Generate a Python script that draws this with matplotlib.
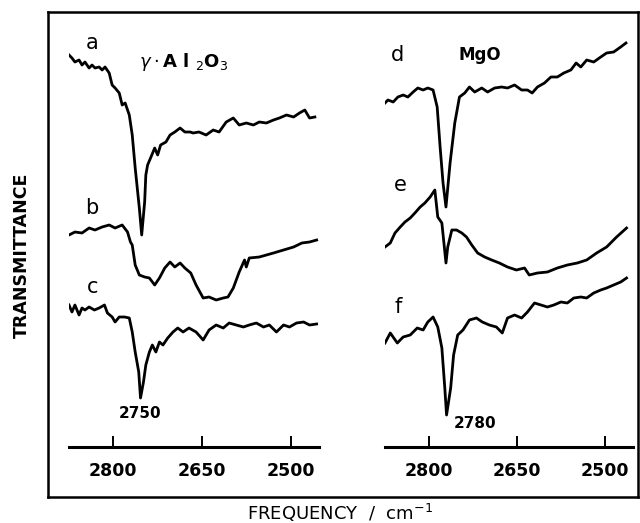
import matplotlib
matplotlib.use("Agg")
import matplotlib.pyplot as plt

# ---------------- data (wavenumber / cm-1, transmittance in arbitrary offset units) -------------
a_wn = [2875, 2870, 2865, 2858, 2853, 2848, 2841, 2836, 2831, 2824, 2819, 2814, 2807, 2802, 2797,
        2790, 2785, 2780, 2773, 2768, 2763, 2756, 2752, 2747, 2745, 2742, 2737, 2730, 2725, 2720,
        2711, 2704, 2696, 2687, 2679, 2670, 2665, 2655, 2643, 2631, 2621, 2609, 2597, 2587, 2575,
        2563, 2553, 2541, 2529, 2519, 2507, 2495, 2485, 2476, 2468, 2459]
a_t = [3.95, 3.92, 3.88, 3.90, 3.85, 3.88, 3.82, 3.85, 3.82, 3.83, 3.80, 3.83, 3.77, 3.65, 3.62,
       3.57, 3.45, 3.47, 3.35, 3.15, 2.82, 2.42, 2.15, 2.48, 2.75, 2.85, 2.92, 3.02, 2.95, 3.05,
       3.08, 3.15, 3.18, 3.22, 3.18, 3.18, 3.17, 3.18, 3.15, 3.20, 3.18, 3.28, 3.32, 3.25, 3.27,
       3.25, 3.28, 3.27, 3.30, 3.32, 3.35, 3.33, 3.37, 3.40, 3.32, 3.33]

b_wn = [2875, 2865, 2853, 2841, 2831, 2819, 2807, 2797, 2785, 2776, 2771, 2768, 2763, 2756, 2747,
        2739, 2730, 2722, 2713, 2704, 2696, 2687, 2679, 2669, 2660, 2648, 2638, 2626, 2614, 2606,
        2597, 2587, 2578, 2575, 2570, 2553, 2529, 2512, 2495, 2481, 2468, 2456]
b_t = [2.15, 2.18, 2.17, 2.22, 2.20, 2.23, 2.25, 2.22, 2.25, 2.18, 2.08, 2.05, 1.85, 1.75, 1.73,
       1.72, 1.65, 1.72, 1.82, 1.88, 1.83, 1.87, 1.82, 1.77, 1.65, 1.52, 1.53, 1.50, 1.52, 1.53,
       1.62, 1.78, 1.90, 1.83, 1.92, 1.93, 1.97, 2.00, 2.03, 2.07, 2.08, 2.10]

c_wn = [2875, 2870, 2865, 2858, 2853, 2848, 2841, 2832, 2824, 2815, 2810, 2802, 2797, 2790, 2781,
        2773, 2768, 2763, 2757, 2754, 2749, 2745, 2739, 2734, 2728, 2722, 2716, 2708, 2699, 2691,
        2682, 2672, 2660, 2648, 2638, 2626, 2614, 2604, 2592, 2580, 2570, 2558, 2546, 2536, 2524,
        2512, 2502, 2490, 2478, 2468, 2456]
c_t = [1.45, 1.38, 1.45, 1.35, 1.42, 1.40, 1.43, 1.40, 1.42, 1.45, 1.37, 1.33, 1.28, 1.33, 1.33,
       1.32, 1.18, 0.98, 0.78, 0.52, 0.68, 0.85, 0.98, 1.05, 0.98, 1.08, 1.05, 1.12, 1.18, 1.22,
       1.18, 1.22, 1.18, 1.10, 1.20, 1.25, 1.22, 1.27, 1.25, 1.23, 1.25, 1.27, 1.23, 1.25, 1.18,
       1.25, 1.23, 1.27, 1.28, 1.25, 1.26]

d_wn = [2875, 2870, 2861, 2853, 2844, 2836, 2827, 2819, 2810, 2802, 2793, 2786, 2781, 2776, 2771,
        2764, 2756, 2748, 2739, 2731, 2722, 2710, 2700, 2688, 2676, 2666, 2654, 2642, 2632, 2624,
        2615, 2603, 2592, 2581, 2570, 2558, 2549, 2541, 2531, 2519, 2507, 2497, 2485, 2473, 2464]
d_t = [3.47, 3.50, 3.48, 3.53, 3.55, 3.53, 3.58, 3.62, 3.60, 3.62, 3.60, 3.43, 3.03, 2.67, 2.43,
       2.87, 3.27, 3.53, 3.57, 3.63, 3.58, 3.62, 3.58, 3.62, 3.63, 3.62, 3.65, 3.60, 3.60, 3.57,
       3.63, 3.67, 3.73, 3.73, 3.77, 3.80, 3.87, 3.83, 3.90, 3.88, 3.93, 3.97, 3.98, 4.03, 4.07]

e_wn = [2875, 2866, 2858, 2849, 2841, 2832, 2824, 2815, 2807, 2798, 2790, 2785, 2778, 2771, 2768,
        2761, 2753, 2744, 2736, 2727, 2717, 2705, 2693, 2680, 2666, 2651, 2637, 2629, 2615, 2598,
        2581, 2564, 2547, 2531, 2514, 2497, 2480, 2463]
e_t = [2.03, 2.07, 2.17, 2.23, 2.28, 2.32, 2.37, 2.43, 2.47, 2.53, 2.60, 2.33, 2.27, 1.87, 2.03,
       2.20, 2.20, 2.17, 2.13, 2.05, 1.97, 1.93, 1.90, 1.87, 1.83, 1.80, 1.82, 1.75, 1.77, 1.78,
       1.82, 1.85, 1.87, 1.90, 1.97, 2.03, 2.13, 2.22]

f_wn = [2875, 2866, 2854, 2844, 2832, 2820, 2810, 2802, 2793, 2785, 2778, 2773, 2770, 2763, 2758,
        2751, 2742, 2731, 2719, 2709, 2697, 2685, 2675, 2666, 2654, 2642, 2632, 2620, 2609, 2598,
        2587, 2575, 2564, 2553, 2541, 2531, 2519, 2507, 2497, 2485, 2473, 2463]
f_t = [1.07, 1.17, 1.07, 1.13, 1.15, 1.22, 1.20, 1.28, 1.33, 1.23, 1.02, 0.62, 0.35, 0.62, 0.95,
       1.15, 1.20, 1.30, 1.32, 1.28, 1.25, 1.23, 1.17, 1.32, 1.35, 1.32, 1.38, 1.47, 1.45, 1.43,
       1.45, 1.48, 1.47, 1.52, 1.53, 1.52, 1.57, 1.60, 1.62, 1.65, 1.68, 1.72]

x_ticks = [2800, 2650, 2500]
x_ticklabels = ["2800", "2650", "2500"]

# ---------------- figure ----------------
W, H = 640, 523
fig = plt.figure(figsize=(6.4, 5.23), dpi=100)

def rect(x0, y0, x1, y1):
    return [x0 / W, 1 - y1 / H, (x1 - x0) / W, (y1 - y0) / H]

# outer frame
frame = fig.add_axes(rect(48, 12, 638, 497))
frame.set_xticks([]); frame.set_yticks([])
frame.patch.set_alpha(0)
for s in frame.spines.values():
    s.set_linewidth(1.8)
    s.set_color("black")

XLIM = (2875, 2452)
YLIM = (0.03, 4.20)

def make_panel(x0, x1):
    ax = fig.add_axes(rect(x0, 30, x1, 447))
    ax.patch.set_alpha(0)
    ax.set_xlim(*XLIM)
    ax.set_ylim(*YLIM)
    for k in ("top", "left", "right"):
        ax.spines[k].set_visible(False)
    ax.spines["bottom"].set_linewidth(2.2)
    ax.set_yticks([])
    ax.set_xticks(x_ticks)
    ax.set_xticklabels(x_ticklabels, fontweight="bold")
    ax.tick_params(axis="x", direction="in", length=8, width=1.4, pad=11,
                   labelsize=12.5)
    return ax

axL = make_panel(69, 319)
axR = make_panel(385, 633)

lw = 2.0
for wn, t in ((a_wn, a_t), (b_wn, b_t), (c_wn, c_t)):
    axL.plot(wn, t, color="black", lw=lw, solid_joinstyle="round")
for wn, t in ((d_wn, d_t), (e_wn, e_t), (f_wn, f_t)):
    axR.plot(wn, t, color="black", lw=lw, solid_joinstyle="round")

lab = dict(fontsize=15, color="black", ha="center", va="center")
axL.text(2836, 4.07, "a", **lab)
axL.text(2836, 2.42, "b", **lab)
axL.text(2835, 1.63, "c", **lab)
axL.text(2681, 3.88, r"$\gamma\cdot$A l $_2$O$_3$", fontsize=13, fontweight="bold",
         ha="center", va="center")
axL.text(2754, 0.37, "2750", fontsize=11, fontweight="bold", ha="center", va="center",
         family="Liberation Sans Narrow")

axR.text(2854, 3.95, "d", **lab)
axR.text(2849, 2.65, "e", **lab)
axR.text(2853, 1.43, "f", **lab)
axR.text(2714, 3.95, "MgO", fontsize=12, fontweight="bold", ha="center", va="center")
axR.text(2722, 0.27, "2780", fontsize=11, fontweight="bold", ha="center", va="center",
         family="Liberation Sans Narrow")

fig.text(22 / W, 1 - 255 / H, "TRANSMITTANCE", rotation=90, fontsize=12.5,
         fontweight="bold", ha="center", va="center")
fig.text(340 / W, 1 - 513 / H, "FREQUENCY  /  cm$^{-1}$", fontsize=13,
         ha="center", va="center")

fig.savefig("out.png", dpi=100)
